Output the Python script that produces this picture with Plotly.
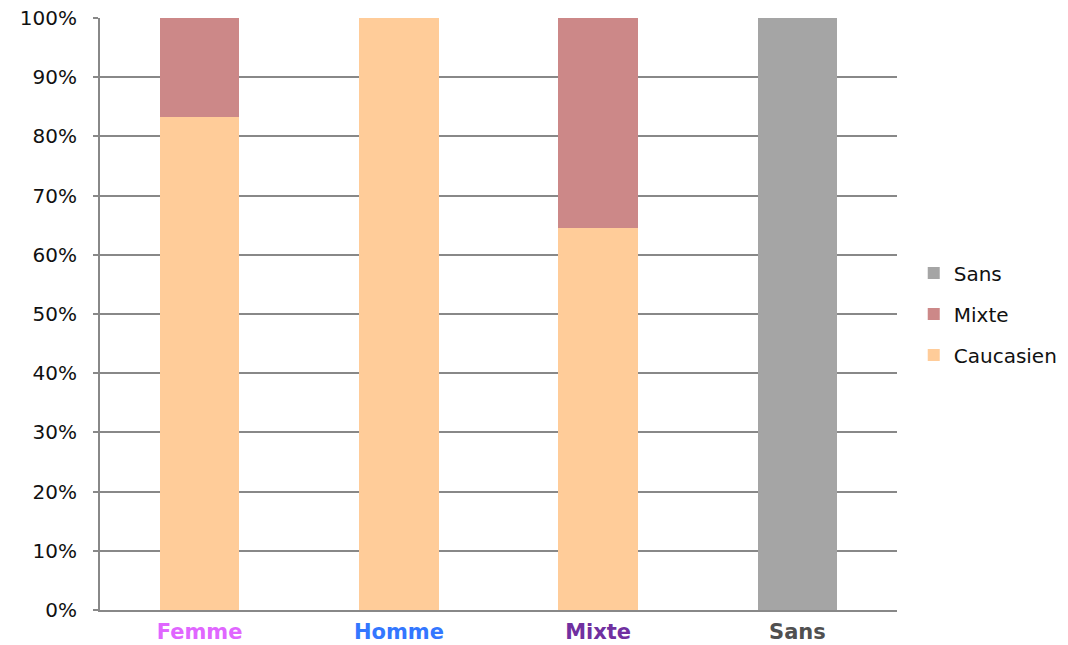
import plotly.graph_objects as go

categories = ["Femme", "Homme", "Mixte", "Sans"]
cat_colors = ["#E066FF", "#3377FF", "#7030A0", "#505050"]
caucasien = [83.3, 100, 64.5, 0]
mixte = [16.7, 0, 35.5, 0]
sans = [0, 0, 0, 100]
ytick_vals = [0, 10, 20, 30, 40, 50, 60, 70, 80, 90, 100]
ytick_text = [f"{v}%" for v in ytick_vals]

fig = go.Figure()
series = [("Caucasien", caucasien, "#FFCC99", 3), ("Mixte", mixte, "#CC8888", 2), ("Sans", sans, "#A5A5A5", 1)]
for name, vals, col, rank in series:
    fig.add_trace(go.Bar(x=categories, y=vals, name=name, marker=dict(color=col, line=dict(width=0)),
                         legendgroup=name, legendrank=rank))

ticktext = [f"<b><span style='color:{c}'>{t}</span></b>" for t, c in zip(categories, cat_colors)]

fig.update_layout(
    barmode="stack",
    bargap=0.6,
    width=1068, height=645,
    margin=dict(l=100, r=171, t=18, b=35, autoexpand=False),
    plot_bgcolor="white", paper_bgcolor="white",
    font=dict(family="DejaVu Sans", size=20, color="#111"),
    legend=dict(traceorder="grouped", tracegroupgap=12, x=1.021, y=0.5, xanchor="left", yanchor="middle",
                font=dict(size=20), itemwidth=30),
    xaxis=dict(tickmode="array", tickvals=categories, ticktext=ticktext, showline=True, linecolor="#888",
               linewidth=2, ticks="", tickfont=dict(size=21), ticklabelstandoff=2, automargin=False),
    yaxis=dict(range=[0, 100], tickvals=ytick_vals, ticktext=ytick_text, showgrid=True, gridcolor="#888",
               gridwidth=1.5, showline=True, linecolor="#888", linewidth=2, ticks="outside", ticklen=5,
               tickcolor="#888", tickwidth=2, zeroline=False, tickfont=dict(size=20), automargin=False,
               ticklabelstandoff=12),
    showlegend=True,
)

fig.write_html("out.html")
